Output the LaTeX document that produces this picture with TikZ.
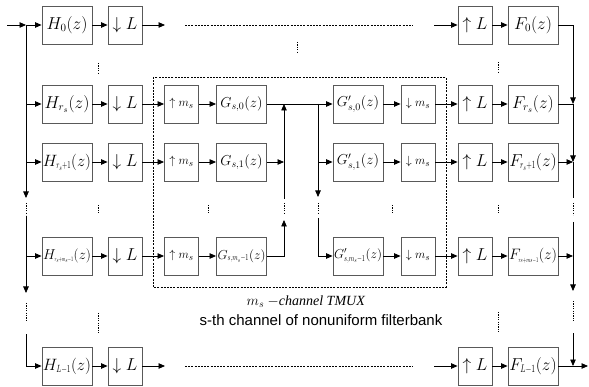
\documentclass[tikz,border=0pt]{standalone}
\usepackage{fontspec}
\setmainfont{Liberation Serif}
\setsansfont{Liberation Sans}
\usepackage{graphicx}
\usetikzlibrary{arrows.meta}
\newcommand\myfs[1]{\fontsize{#1}{#1}\selectfont}
\newsavebox\mylabbox
\newcommand\fitlab[1]{\sbox\mylabbox{#1}\ifdim\wd\mylabbox>48pt\resizebox{48pt}{!}{\usebox\mylabbox}\else\usebox\mylabbox\fi}
\newcommand\sqz[2]{\scalebox{#1}[1]{$\scriptstyle #2$}}
\newcommand\sqzz[2]{\scalebox{#1}[1]{$\scriptscriptstyle #2$}}
\begin{document}
\begin{tikzpicture}[x=1pt,y=-1pt,
  blk/.style={draw=black!65, line width=0.9pt, minimum height=38pt, inner sep=0pt, fill=white},
  wide/.style={blk, minimum width=50pt, font=\myfs{16}},
  gwide/.style={blk, minimum width=50pt, font=\myfs{14}},
  narrow/.style={blk, minimum width=34pt, font=\myfs{16}},
  mnarrow/.style={blk, minimum width=34pt, font=\myfs{13}},
  con/.style={line width=0.8pt, -{Triangle[length=6.5pt,width=5.5pt]}},
  ln/.style={line width=0.8pt},
  dots/.style={line width=0.8pt, dash pattern=on 1.2pt off 1.2pt},
  dline/.style={line width=0.7pt, dash pattern=on 2pt off 1.2pt},
]
\useasboundingbox (0,0) rectangle (589,387);
% ---------- row 0
\node[wide]   (h0)  at (67,25)  {\fitlab{$H_0(z)$}};
\node[narrow] (dl0) at (125,25) {$\downarrow L$};
\node[narrow] (ul0) at (475,25) {$\uparrow L$};
\node[wide]   (f0)  at (533,25) {\fitlab{$F_0(z)$}};
% ---------- row r_s
\node[wide]    (h1)  at (67,104)  {\fitlab{$H_{r_s}(z)$}};
\node[narrow]  (dl1) at (125,104) {$\downarrow L$};
\node[mnarrow] (um1) at (181.5,104) {$\uparrow m_s$};
\node[gwide]   (g1)  at (241.5,104) {\fitlab{$G_{s,0}(z)$}};
\node[gwide]   (gp1) at (358,104) {\fitlab{$G'_{s,0}(z)$}};
\node[mnarrow] (dm1) at (418,104) {$\downarrow m_s$};
\node[narrow]  (ul1) at (475,104) {$\uparrow L$};
\node[wide]    (f1)  at (533,104) {\fitlab{$F_{r_s}(z)$}};
% ---------- row r_s+1
\node[wide]    (h2)  at (67,162)  {\fitlab{$H_{\sqz{0.65}{r_s+1}}(z)$}};
\node[narrow]  (dl2) at (125,162) {$\downarrow L$};
\node[mnarrow] (um2) at (181.5,162) {$\uparrow m_s$};
\node[gwide]   (g2)  at (241.5,162) {\fitlab{$G_{s,1}(z)$}};
\node[gwide]   (gp2) at (358,162) {\fitlab{$G'_{s,1}(z)$}};
\node[mnarrow] (dm2) at (418,162) {$\downarrow m_s$};
\node[narrow]  (ul2) at (475,162) {$\uparrow L$};
\node[wide]    (f2)  at (533,162) {\fitlab{$F_{\sqz{0.65}{r_s+1}}(z)$}};
% ---------- row r_s+m_s-1
\node[wide]    (h3)  at (67,256)  {\fitlab{$H_{\sqzz{0.6}{r_s+m_s-1}}(z)$}};
\node[narrow]  (dl3) at (125,256) {$\downarrow L$};
\node[mnarrow] (um3) at (181.5,256) {$\uparrow m_s$};
\node[gwide]   (g3)  at (241.5,256) {\fitlab{$G_{\sqz{0.7}{s,m_s-1}}(z)$}};
\node[gwide]   (gp3) at (358,256) {\fitlab{$G'_{\sqz{0.7}{s,m_s-1}}(z)$}};
\node[mnarrow] (dm3) at (418,256) {$\downarrow m_s$};
\node[narrow]  (ul3) at (475,256) {$\uparrow L$};
\node[wide]    (f3)  at (533,256) {\fitlab{$F_{\sqzz{0.6}{r_s+m_s-1}}(z)$}};
% ---------- row L-1
\node[wide]   (h4)  at (67,366)  {\fitlab{$H_{\sqz{0.7}{L-1}}(z)$}};
\node[narrow] (dl4) at (125,366) {$\downarrow L$};
\node[narrow] (ul4) at (475,366) {$\uparrow L$};
\node[wide]   (f4)  at (533,366) {\fitlab{$F_{\sqz{0.7}{L-1}}(z)$}};
% ---------- TMUX box and labels
\draw[dline] (153,77) rectangle (446,287);
\node[font=\myfs{14}] (lab1) at (306,302) {$m_s\ {-}$\textit{channel TMUX}};
\node[font=\sffamily\myfs{15}] (lab2) at (321,320) {s-th channel of nonuniform filterbank};
% ---------- coordinates
\coordinate (in)  at (7,25);
\coordinate (jl0) at (26,25);
\coordinate (jl1) at (26,104);
\coordinate (jl2) at (26,162);
\coordinate (jl3) at (26,256);
\coordinate (jl4) at (26,366);
\coordinate (jr0) at (573,25);
\coordinate (jr1) at (573,104);
\coordinate (jr2) at (573,162);
\coordinate (jr3) at (573,256);
\coordinate (jr4) at (573,366);
\coordinate (out) at (588,366);
\coordinate (ml1) at (284,104);
\coordinate (ml2) at (284,162);
\coordinate (ml3) at (284,256);
\coordinate (mr1) at (318,104);
\coordinate (mr2) at (318,162);
\coordinate (mr3) at (318,256);
% ---------- row 0 and L-1 connectors
\draw[con] (in) -- (jl0);
\draw[con] (jl0) -- (h0);
\draw[con] (h0) -- (dl0);
\draw[con] (dl0) -- (165,25);
\draw[dline] (185,25) -- (413,25);
\draw[con] (434,25) -- (ul0);
\draw[con] (ul0) -- (f0);
\draw[con] (h4) -- (dl4);
\draw[con] (dl4) -- (165,366);
\draw[dline] (185,366) -- (413,366);
\draw[con] (434,366) -- (ul4);
\draw[con] (ul4) -- (f4);
% ---------- inner rows
\foreach \r in {1,2,3}{
  \draw[con] (jl\r) -- (h\r);
  \draw[con] (h\r) -- (dl\r);
  \draw[con] (dl\r) -- (um\r);
  \draw[con] (um\r) -- (g\r);
  \draw[con] (gp\r) -- (dm\r);
  \draw[con] (dm\r) -- (ul\r);
  \draw[con] (ul\r) -- (f\r);
}
% ---------- left bus
\draw[ln] (jl0) -- (jl2);
\draw[con] (jl2) -- (26,198);
\draw[dots] (26,203) -- (26,215);
\draw[ln] (26,216) -- (jl3);
\draw[con] (jl3) -- (26,293);
\draw[dots] (26,303) -- (26,321);
\draw[con] (26,334) -- (jl4) -- (h4);
% ---------- right bus
\draw[con] (f0) -- (jr0) -- (jr1);
\draw[ln] (f1) -- (jr1);
\draw[con] (jr1) -- (jr2);
\draw[con] (f2) -- (jr2);
\draw[ln] (jr2) -- (573,198);
\draw[dots] (573,203) -- (573,215);
\draw[ln] (573,222) -- (jr3);
\draw[con] (f3) -- (jr3);
\draw[con] (jr3) -- (573,291);
\draw[dots] (573,301) -- (573,321);
\draw[con] (573,333) -- (jr4);
\draw[ln] (f4) -- (jr4);
\draw[con] (jr4) -- (out);
% ---------- TMUX internal
\draw[con] (g1) -- (gp1);
\draw[con] (ml2) -- (ml1);
\draw[con] (g2) -- (ml2);
\draw[ln] (ml2) -- (284,199);
\draw[dots] (284,203) -- (284,214);
\draw[con] (g3) -- (ml3) -- (284,220);
\draw[ln] (mr1) -- (mr2);
\draw[con] (mr2) -- (gp2);
\draw[con] (mr2) -- (318,197);
\draw[dots] (318,203) -- (318,214);
\draw[con] (318,218) -- (mr3) -- (gp3);
% ---------- vertical ellipses
\draw[dots] (98,63) -- (98,73);
\draw[dots] (297,42) -- (297,53);
\draw[dots] (498,62) -- (498,72);
\foreach \x in {98,208,392,498}{\draw[dots] (\x,205) -- (\x,214);}
\draw[dots] (98,313) -- (98,333);
\draw[dots] (498,312) -- (498,333);
\end{tikzpicture}
\end{document}
